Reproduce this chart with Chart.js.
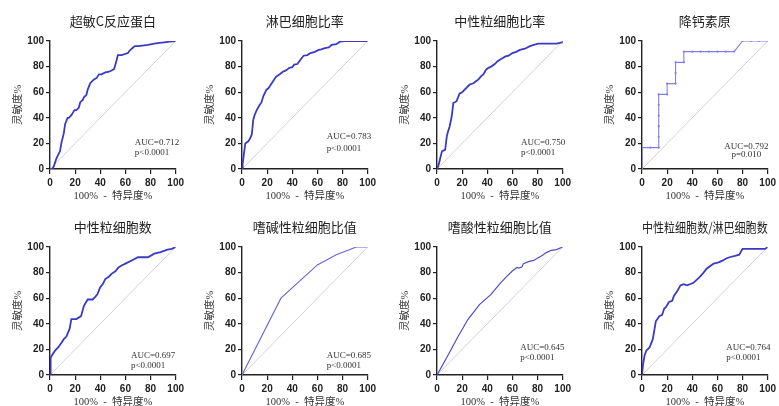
<!DOCTYPE html>
<html>
<head>
<meta charset="utf-8">
<script src="https://cdn.jsdelivr.net/npm/chart.js@4.4.1/dist/chart.umd.min.js"></script>
<style>
  html, body { margin: 0; padding: 0; background: #fff; }
  #wrap { position: relative; width: 779px; height: 406px; overflow: hidden; background: #fff; }
  .panel { position: absolute; width: 187px; height: 200px; }
</style>
</head>
<body>
<div id="wrap"></div>
<script>
// tick labels shared by both axes
const axisTicks = [0, 20, 40, 60, 80, 100];

const titles = ["超敏C反应蛋白", "淋巴细胞比率", "中性粒细胞比率", "降钙素原",
  "中性粒细胞数", "嗜碱性粒细胞比值", "嗜酸性粒细胞比值", "中性粒细胞数/淋巴细胞数"];
const aucLabels = ["AUC=0.712", "AUC=0.783", "AUC=0.750", "AUC=0.792",
  "AUC=0.697", "AUC=0.685", "AUC=0.645", "AUC=0.764"];
const pLabels = ["p<0.0001", "p<0.0001", "p<0.0001", "p=0.010",
  "p<0.0001", "p<0.0001", "p<0.0001", "p<0.0001"];

// 100% - specificity (x) and sensitivity (y)
const crpX = [0, 2, 3, 4, 5, 6.5, 8, 9, 10, 11, 12, 14, 15, 17, 19.5, 21, 23, 24, 26, 27, 29, 30, 32, 35, 37, 39, 41, 44, 47, 49, 51, 52, 53, 54, 57, 62, 63, 65, 67.5, 70, 75, 78, 83, 87, 91, 95, 100];
const crpY = [0, 0, 2, 5, 8, 11, 14, 20, 24, 28, 35, 40, 40, 42, 46, 46, 48, 52, 54, 56, 58, 62, 67, 70, 71, 74, 74, 75.5, 76, 77, 78, 81.5, 85, 89, 89, 90.6, 92, 94, 96, 96, 96.6, 97, 98, 98.5, 99, 99.5, 100];

const lymX = [0, 0.5, 1.3, 2.6, 5, 6.5, 7.8, 9, 10, 11.7, 14, 15.5, 17, 19.5, 21, 23, 25, 27, 30, 32.5, 35, 37.7, 40, 41.5, 44, 45.5, 47, 49, 52, 54.5, 58, 61, 63, 66, 69, 71.4, 75, 78, 82, 90, 100];
const lymY = [0, 4, 10, 20, 21.6, 24, 27, 38.5, 42, 46, 50, 52, 57, 62, 63, 66, 69, 72, 74, 76, 77, 79, 79.5, 81.5, 82, 84, 86, 88.5, 89, 90.6, 91.5, 93, 93.5, 94.5, 95, 97, 97.5, 99.5, 100, 100, 100];

const neuRatioX = [0, 1.5, 2.6, 4, 6.5, 7.8, 9, 10, 11.7, 13, 15.6, 18, 20, 22, 24, 26, 29, 31, 33, 35, 37, 39, 41, 43, 46, 48, 51, 54.5, 57, 60, 63, 66, 70, 74, 77, 80.5, 85, 89.6, 95, 99.5, 100];
const neuRatioY = [0, 4, 8.6, 14, 15, 25.5, 30, 33, 41, 51.5, 53, 59, 60, 62, 64, 66, 67, 68.5, 70, 72.4, 74, 77.6, 79, 80, 82, 84, 86, 88, 88.5, 90.6, 91.5, 93, 94, 96, 97, 98, 98, 98, 98, 99, 100];

const pctX = [0, 0, 0, 6.7, 13.3, 13.3, 13.3, 13.3, 13.3, 13.3, 20, 20, 26.7, 26.7, 26.7, 33.3, 33.3, 40, 46.7, 53.3, 60, 66.7, 73.3, 80, 86.7, 93.3, 100];
const pctY = [0, 8.3, 16.7, 16.7, 16.7, 25, 33.3, 41.7, 50, 58.3, 58.3, 66.7, 66.7, 75, 83.3, 83.3, 91.7, 91.7, 91.7, 91.7, 91.7, 91.7, 91.7, 100, 100, 100, 100];

const neuCountX = [0, 0.5, 2, 4, 6.5, 9, 11, 13, 15.6, 17, 21, 24.7, 27, 30, 34, 36, 37.7, 40, 42, 44, 47, 49, 52, 54.5, 57, 60, 65, 70, 74, 78, 83, 88, 93.5, 97, 100];
const neuCountY = [0, 13.6, 16, 19, 21.5, 25, 28, 30, 36, 43.7, 43.7, 46, 54, 59, 59, 61, 63, 68.6, 71, 75, 77, 79, 81, 84, 85.5, 87, 89.5, 92, 92, 92, 94.8, 96, 98, 98.5, 100];

const basoX = [0, 31, 60, 75, 91, 100];
const basoY = [0, 60, 86, 94, 100, 100];

const eosX = [0, 8, 17, 24.7, 33.8, 43, 50.6, 55, 59.7, 63.6, 65, 67.5, 68.8, 74, 77, 80.5, 84, 87, 91, 95, 100];
const eosY = [0, 14, 30.5, 43.5, 55, 63, 72, 76.5, 81, 84, 83.5, 84.4, 87, 89, 89.5, 91.6, 93.5, 95.6, 97.4, 98, 100];

const nlrX = [0, 0.8, 2, 3.4, 6, 8.6, 11, 13.8, 16, 17.7, 19, 21.5, 24, 25.5, 28, 30.6, 33, 36, 41, 46, 49, 51.4, 54, 57, 61, 64.4, 67, 69.6, 74, 77.4, 80, 90, 98, 100];
const nlrY = [0, 8, 15, 19, 21.5, 28, 42, 46, 47, 52, 53, 57, 58, 62, 65.5, 70, 71, 70, 72, 76.7, 80, 83, 85, 87, 88, 89.5, 91, 92, 93, 94, 98.5, 98.5, 98.5, 100];

const curvesX = [crpX, lymX, neuRatioX, pctX, neuCountX, basoX, eosX, nlrX];
const curvesY = [crpY, lymY, neuRatioY, pctY, neuCountY, basoY, eosY, nlrY];

// layout and looks
const panelLeft = [0, 192, 387, 592];
const panelTop = [0, 206];
const lineStyle = [
  { color: "#3a3ac6", width: 1.8, dot: 0 },
  { color: "#3a3ac6", width: 1.8, dot: 0 },
  { color: "#3a3ac6", width: 1.8, dot: 0 },
  { color: "#8080e2", width: 1.1, dot: 1.1 },
  { color: "#3a3ac6", width: 1.8, dot: 0 },
  { color: "#6565d8", width: 1.1, dot: 0 },
  { color: "#4d4dcc", width: 1.2, dot: 0 },
  { color: "#3a3ac6", width: 1.8, dot: 0 }
];
// where the AUC / p text starts, in data units
const noteAt = [
  { x: 67.5, y1: 20.8, y2: 12.5, center: false },
  { x: 67.5, y1: 25, y2: 16, center: false },
  { x: 66.8, y1: 20.8, y2: 12.5, center: false },
  { x: 83, y1: 17.7, y2: 11, center: true },
  { x: 64.4, y1: 15.4, y2: 7.6, center: false },
  { x: 67.4, y1: 14.9, y2: 7.6, center: false },
  { x: 66.2, y1: 21.4, y2: 13.6, center: false },
  { x: 67, y1: 21.5, y2: 13.6, center: false }
];

const notePlugin = {
  id: "aucNote",
  afterDatasetsDraw(chart, args, opts) {
    const { ctx, scales } = chart;
    const n = opts.note;
    ctx.save();
    ctx.font = "9px 'Liberation Serif', serif";
    ctx.fillStyle = "#333";
    ctx.textBaseline = "middle";
    ctx.textAlign = n.center ? "center" : "left";
    const px = scales.x.getPixelForValue(n.x);
    ctx.fillText(opts.auc, px, scales.y.getPixelForValue(n.y1));
    ctx.fillText(opts.p, px, scales.y.getPixelForValue(n.y2));
    ctx.restore();
  }
};

function axisOptions(isX) {
  return {
    type: "linear",
    min: 0,
    max: 100,
    afterBuildTicks: (s) => { s.ticks = axisTicks.map((v) => ({ value: v })); },
    afterFit: (s) => {
      if (isX) s.height = 31; else s.width = 50;
    },
    border: { display: true, color: "#222", width: 1.4 },
    grid: {
      display: true,
      drawOnChartArea: false,
      drawTicks: true,
      tickLength: isX ? 5 : 4,
      color: "#222",
      lineWidth: 1.2
    },
    ticks: {
      padding: isX ? 3 : 2,
      color: "#222",
      font: { family: "'Liberation Sans', Arial, sans-serif", size: 10, weight: "bold" }
    },
    title: {
      display: true,
      text: isX ? "100%  -  特异度%" : "灵敏度%",
      color: "#333",
      font: { family: "'Liberation Serif', 'Noto Sans CJK SC', serif", size: 10.5 },
      padding: isX ? { top: 2, bottom: -3 } : { top: 11.5, bottom: 0 }
    }
  };
}

const wrap = document.getElementById("wrap");

titles.forEach((title, i) => {
  const box = document.createElement("div");
  box.className = "panel";
  box.style.left = panelLeft[i % 4] + "px";
  box.style.top = panelTop[Math.floor(i / 4)] + "px";
  const canvas = document.createElement("canvas");
  box.appendChild(canvas);
  wrap.appendChild(box);

  const st = lineStyle[i];
  const points = curvesX[i].map((x, k) => ({ x, y: curvesY[i][k] }));

  new Chart(canvas.getContext("2d"), {
    type: "line",
    data: {
      datasets: [
        {
          data: points,
          borderColor: st.color,
          backgroundColor: st.color,
          borderWidth: st.width,
          pointRadius: st.dot,
          pointBorderWidth: 0,
          tension: 0,
          fill: false
        },
        {
          data: [{ x: 0, y: 0 }, { x: 100, y: 100 }],
          borderColor: "#d6d0d4",
          borderWidth: 1,
          pointRadius: 0,
          fill: false
        }
      ]
    },
    options: {
      responsive: true,
      maintainAspectRatio: false,
      animation: false,
      parsing: false,
      layout: { padding: { left: 0, right: 9, top: 0, bottom: 0 } },
      scales: {
        x: axisOptions(true),
        y: axisOptions(false)
      },
      plugins: {
        legend: { display: false },
        tooltip: { enabled: false },
        title: {
          display: true,
          fullSize: false,
          text: title,
          color: "#222",
          font: { family: "'Noto Sans CJK SC', sans-serif", size: 13, weight: "normal" },
          padding: { top: 13, bottom: 12.4 }
        },
        aucNote: { note: noteAt[i], auc: aucLabels[i], p: pLabels[i] }
      }
    },
    plugins: [notePlugin]
  });
});
</script>
</body>
</html>
